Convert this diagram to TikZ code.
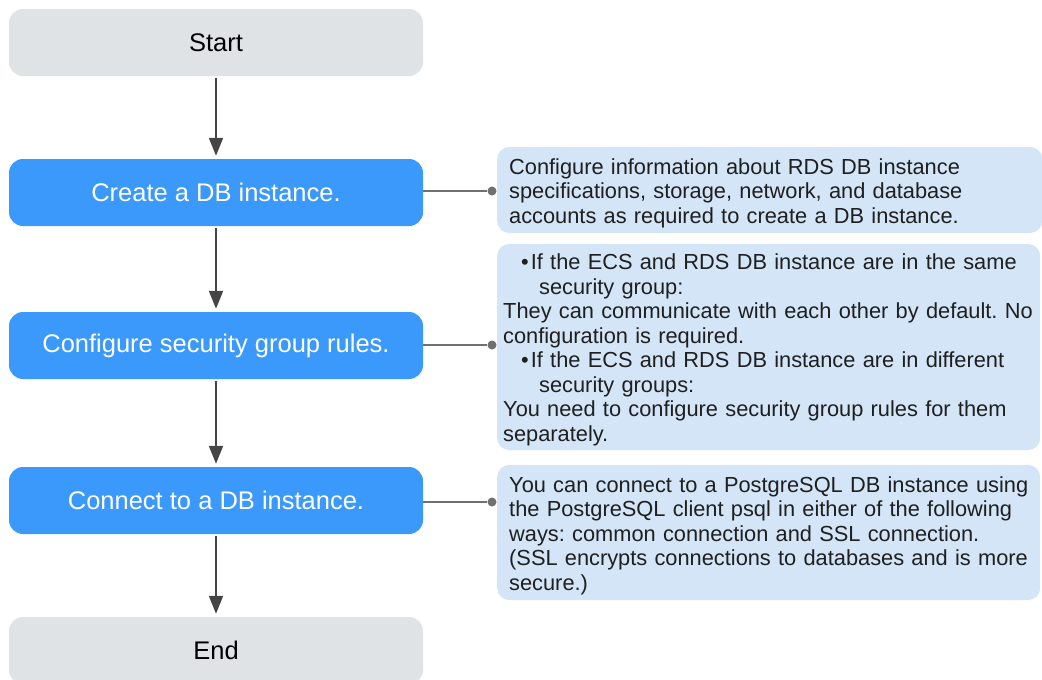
\documentclass[tikz,border=0pt]{standalone}
\usepackage{fontspec}
\setmainfont{Liberation Sans}
\usetikzlibrary{arrows.meta}
\frenchspacing
\definecolor{stepblue}{HTML}{3A99FB}
\definecolor{termgray}{HTML}{E0E3E6}
\definecolor{noteblue}{HTML}{D3E5F7}
\definecolor{arrowgray}{HTML}{454545}
\definecolor{linkgray}{HTML}{707070}
\tikzset{
  flowbox/.style={rounded corners=14pt, minimum width=414pt, minimum height=67pt, inner sep=0pt, font=\fontsize{25.5}{28}\selectfont},
  termbox/.style={flowbox, fill=termgray, text=black},
  stepbox/.style={flowbox, fill=stepblue, text=white},
  notebox/.style={rounded corners=12pt, fill=noteblue, inner ysep=0pt, align=left, anchor=west,
     font=\fontsize{21.8}{24.5}\selectfont\frenchspacing, text=black!88},
  flowarrow/.style={draw=arrowgray, line width=2pt, -{Triangle[length=18pt,width=14pt]}, shorten >=3pt, shorten <=1.5pt},
  link/.style={draw=linkgray, line width=1.2pt},
  linkdot/.style={circle, fill=linkgray, minimum size=9pt, inner sep=0pt}
}
\newcommand{\nl}[1]{\mbox{#1}\\}
\newcommand{\topstrut}{\rule{0pt}{22pt}}
\begin{document}
\begin{tikzpicture}[x=1pt,y=-1pt]
\useasboundingbox (0,0) rectangle (1042,680);
\node[termbox] (start) at (216,42.5) {Start};
\node[stepbox] (create) at (216,192.5) {Create a DB instance.};
\node[stepbox] (secgrp) at (216,345.5) {Configure security group rules.};
\node[stepbox] (connect) at (216,500.5) {Connect to a DB instance.};
\node[termbox] (end) at (216,650.5) {End};

\draw[flowarrow] (start) -- (create);
\draw[flowarrow] (create) -- (secgrp);
\draw[flowarrow] (secgrp) -- (connect);
\draw[flowarrow] (connect) -- (end);

\node[notebox, minimum height=86pt, text width=521pt, inner xsep=12pt] (n1) at (497,190)
 {\nl{\topstrut Configure information about RDS DB instance}\nl{specifications, storage, network, and database}\mbox{accounts as required to create a DB instance.}};
\node[notebox, minimum height=206pt, text width=531pt, inner xsep=6pt] (n2) at (497,347)
 {\nl{\topstrut\hspace*{18pt}\textbullet\hspace{2pt}If the ECS and RDS DB instance are in the same}
  \nl{\hspace*{36pt}security group:}
  \nl{They can communicate with each other by default. No}
  \nl{configuration is required.}
  \nl{\hspace*{18pt}\textbullet\hspace{2pt}If the ECS and RDS DB instance are in different}
  \nl{\hspace*{36pt}security groups:}
  \nl{You need to configure security group rules for them}
  \mbox{separately.}};
\node[notebox, minimum height=135pt, text width=519pt, inner xsep=12pt] (n3) at (497,532.5)
 {\nl{\topstrut You can connect to a PostgreSQL DB instance using}\nl{the PostgreSQL client psql in either of the following}\nl{ways: common connection and SSL connection.}\nl{(SSL encrypts connections to databases and is more}\mbox{secure.)}};

\node[linkdot] (d1) at (492,191) {};
\node[linkdot] (d2) at (492,345) {};
\node[linkdot] (d3) at (492,502) {};
\draw[link] (create.east |- d1) -- (d1);
\draw[link] (secgrp.east |- d2) -- (d2);
\draw[link] (connect.east |- d3) -- (d3);
\end{tikzpicture}
\end{document}
